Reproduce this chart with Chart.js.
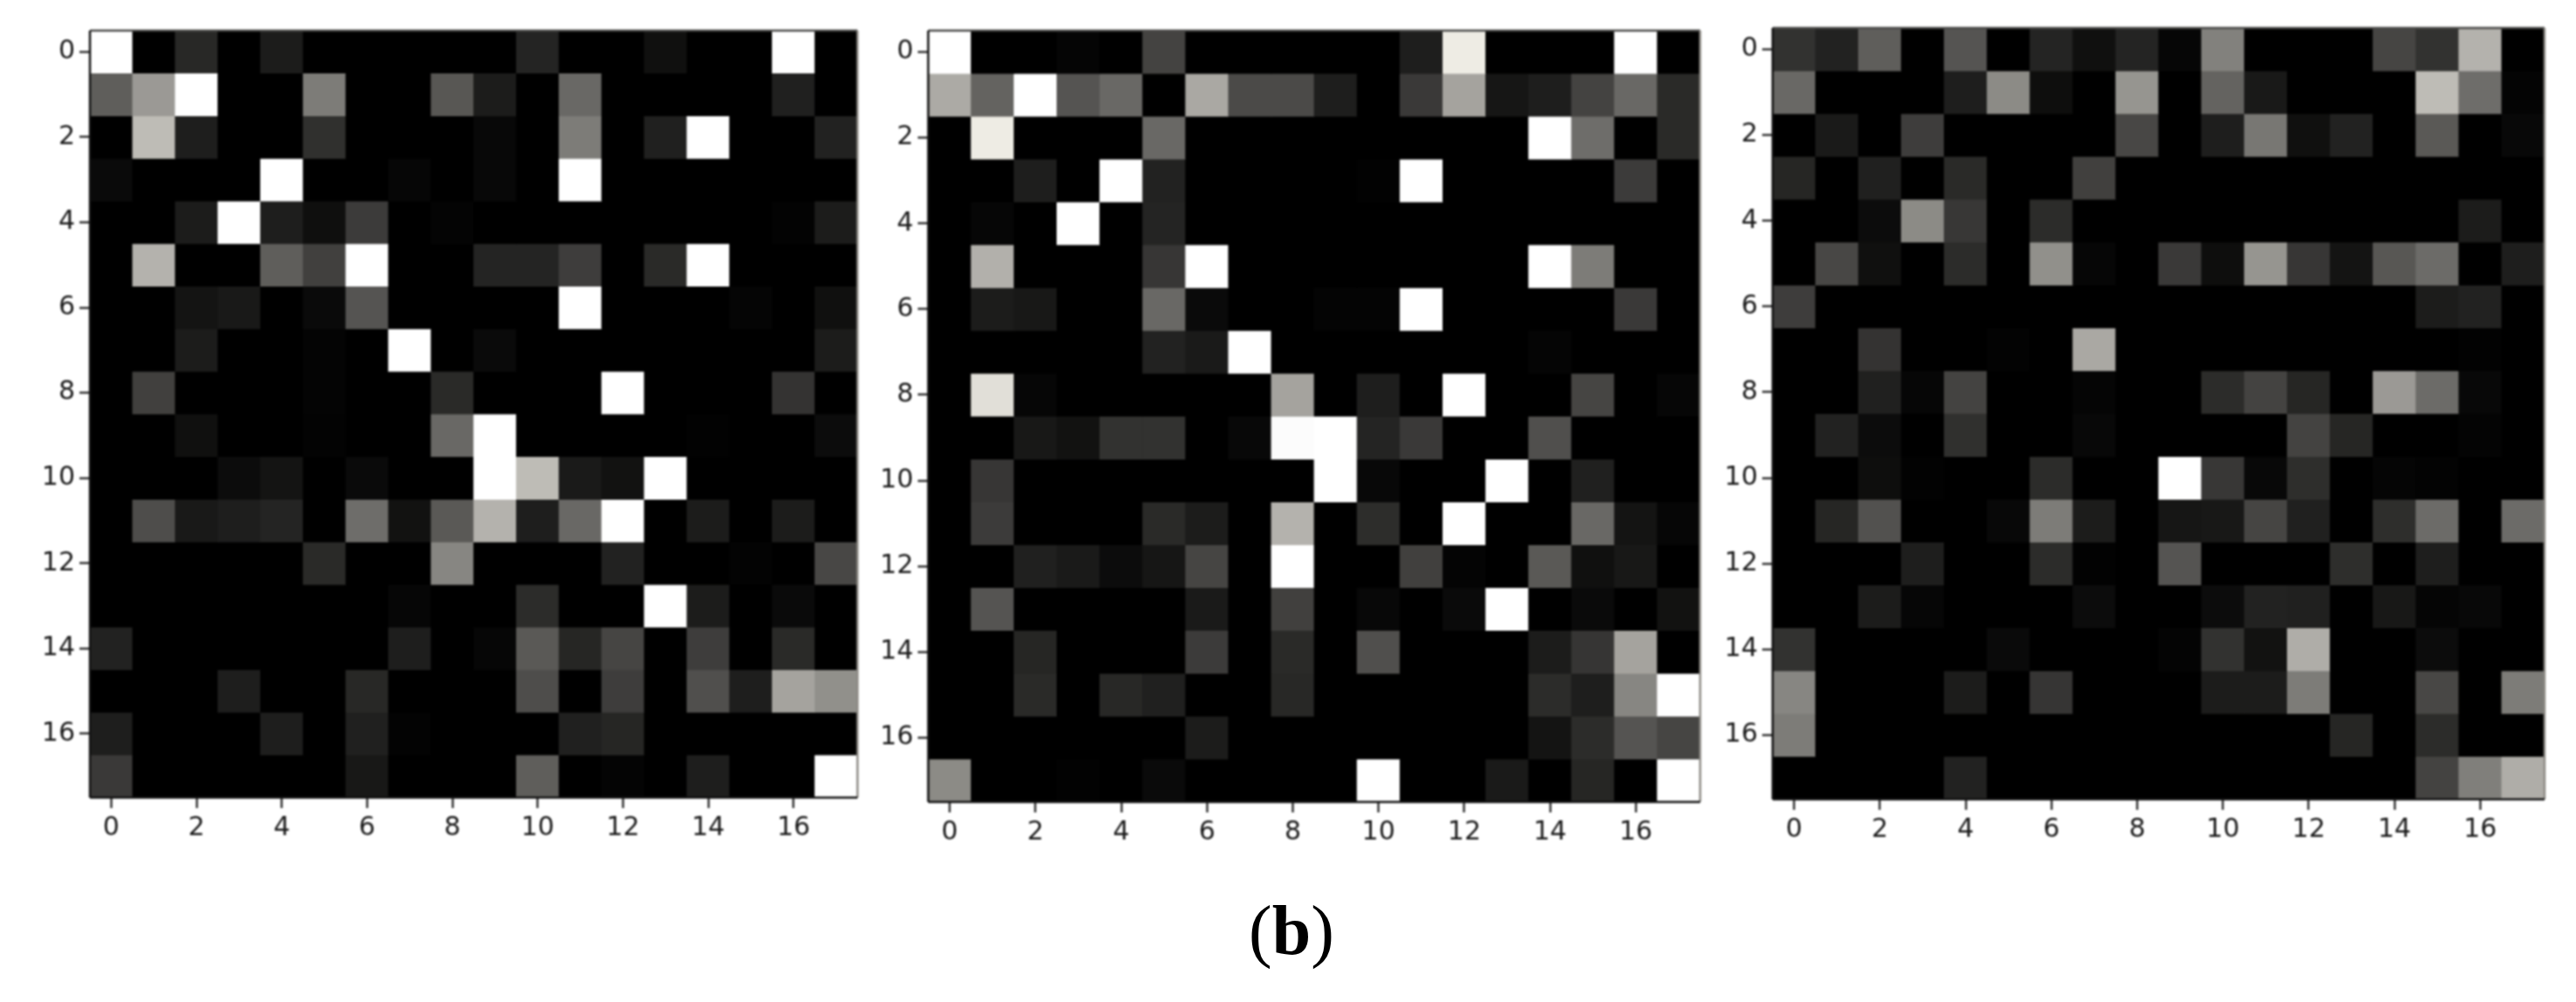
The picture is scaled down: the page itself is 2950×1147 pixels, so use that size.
<!DOCTYPE html>
<html>
<head>
<meta charset="utf-8">
<script src="https://cdn.jsdelivr.net/npm/chart.js@4/dist/chart.umd.js"></script>
<style>
    html, body { margin: 0; background: #fff; width: 2950px; height: 1147px; overflow: hidden; }
    canvas { position: absolute; filter: blur(0.8px); }
    #caption { position: absolute; left: 1279px; width: 400px; top: 1009px; text-align: center;
               font: 80px "Liberation Serif", serif; color: #000; line-height: 112px; }
</style>
</head>
<body>
<canvas id="panelA"></canvas>
<canvas id="panelB"></canvas>
<canvas id="panelC"></canvas>
<div id="caption">(<b>b</b>)</div>
<script>
const cells = [0, 1, 2, 3, 4, 5, 6, 7, 8, 9, 10, 11, 12, 13, 14, 15, 16, 17];
const tickValues = [0, 2, 4, 6, 8, 10, 12, 14, 16];

// grey level of each cell, one line per matrix row
const valuesA = [
    [255,0,40,0,28,0,0,0,0,0,36,0,0,16,0,0,255,0],
    [95,155,255,0,0,125,0,0,88,28,0,105,0,0,0,0,32,0],
    [0,190,30,0,0,48,0,0,0,8,0,125,0,32,255,0,0,34],
    [10,0,0,0,255,0,0,6,0,8,0,255,0,0,0,0,0,0],
    [0,0,28,255,30,15,60,0,4,0,0,0,0,0,0,0,3,28],
    [0,180,0,0,95,65,255,0,0,36,36,62,0,42,255,0,0,0],
    [0,0,20,25,0,10,85,0,0,0,0,255,0,0,0,5,0,16],
    [0,0,28,0,0,4,0,255,0,10,0,0,0,0,0,0,0,28],
    [0,65,0,0,0,4,0,0,42,0,0,0,255,0,0,0,52,0],
    [0,0,16,0,0,3,0,0,105,255,0,0,0,0,2,0,0,12],
    [0,0,0,12,20,0,10,0,0,255,190,26,18,255,0,0,0,0],
    [0,78,25,30,36,0,110,18,90,180,30,105,255,0,28,0,28,0],
    [0,0,0,0,0,42,0,0,135,0,0,0,34,0,0,3,0,72],
    [0,0,0,0,0,0,0,6,0,0,44,0,0,255,28,0,10,0],
    [34,0,0,0,0,0,0,30,0,6,90,38,70,0,62,0,42,0],
    [0,0,0,30,0,0,40,0,0,0,78,0,62,0,80,30,165,145],
    [30,0,0,0,30,0,32,3,0,0,0,32,38,0,0,0,0,0],
    [58,0,0,0,0,0,24,0,0,0,95,0,4,0,30,0,0,255]
];
const valuesB = [
    [255,0,0,5,0,68,0,0,0,0,0,30,238,0,0,0,255,0],
    [172,100,255,85,105,0,170,75,75,30,0,58,165,22,30,68,105,42],
    [0,238,0,0,0,105,0,0,0,0,0,0,0,0,255,110,0,42],
    [0,0,30,0,255,34,0,0,0,0,2,255,0,0,0,0,60,0],
    [0,6,0,255,0,36,0,0,0,0,0,0,0,0,0,0,0,0],
    [0,178,0,0,0,55,255,0,0,0,0,0,0,0,255,125,0,0],
    [0,28,24,0,0,105,10,0,0,4,4,255,0,0,0,0,58,0],
    [0,0,0,0,0,34,26,255,0,0,0,0,0,0,5,0,0,0],
    [0,225,6,0,0,0,0,0,165,0,30,0,255,0,0,70,0,6],
    [0,0,24,18,50,50,0,8,252,255,36,58,0,0,80,0,0,0],
    [0,55,0,0,0,0,0,0,0,255,8,0,0,255,0,32,0,0],
    [0,60,0,0,0,42,28,0,180,0,45,0,255,0,0,105,20,6],
    [0,0,32,26,12,22,70,0,255,0,0,65,4,0,90,16,24,0],
    [0,85,0,0,0,0,26,0,65,0,8,0,10,255,0,10,0,18],
    [0,0,38,0,0,0,60,0,42,0,80,0,0,0,28,54,165,0],
    [0,0,42,0,40,32,0,0,40,0,0,0,0,0,44,30,135,255],
    [0,0,0,0,0,0,28,0,0,0,0,0,0,0,20,44,85,70],
    [140,0,0,2,0,10,0,0,0,0,255,0,0,26,0,38,0,255]
];
const valuesC = [
    [50,34,95,0,85,0,36,16,36,6,130,0,0,0,70,50,180,0],
    [105,0,0,0,30,140,14,0,150,0,100,25,0,0,0,190,110,4],
    [0,26,0,62,0,0,0,0,72,0,30,120,16,34,0,90,0,8],
    [38,0,32,0,42,0,0,65,0,0,0,0,0,0,0,0,0,0],
    [0,0,12,140,56,0,44,0,0,0,0,0,0,0,0,0,28,0],
    [0,72,16,0,44,0,145,6,0,58,14,150,55,20,88,108,0,30],
    [62,0,0,0,0,0,0,0,0,0,0,0,0,0,0,28,34,0],
    [0,0,52,0,0,3,0,170,0,0,0,0,0,0,0,0,2,0],
    [0,0,32,6,68,0,0,5,0,0,44,68,38,0,155,108,8,0],
    [0,34,12,0,48,0,0,8,0,0,0,0,68,38,0,0,4,0],
    [0,0,14,2,0,0,44,0,0,255,56,8,46,0,5,3,0,0],
    [0,38,82,0,0,8,125,28,0,22,24,70,32,0,46,108,0,108],
    [0,0,0,30,0,0,44,2,0,85,0,0,0,46,0,30,0,0],
    [0,0,28,6,0,0,0,12,0,0,12,34,32,0,24,5,8,0],
    [50,0,0,0,0,10,0,0,0,4,50,18,175,0,0,12,0,0],
    [135,0,0,0,28,0,54,0,0,0,28,28,125,0,0,72,0,125],
    [125,0,0,0,0,0,0,0,0,0,0,0,0,38,0,44,0,0],
    [0,0,0,0,34,0,0,0,0,0,0,0,0,0,0,68,128,175]
];

const gutter = 90, footer = 75, padTop = 6, padRight = 8;

// reference greys lean slightly warm in the mid tones
function cellColor(level) {
    if (level >= 250) return `rgb(${level},${level},${level})`;
    return `rgb(${level},${Math.round(level * 0.99)},${Math.round(level * 0.96)})`;
}

const framePlugin = {
    id: 'frame',
    beforeDatasetsDraw(chart) {
        const a = chart.chartArea, ctx = chart.ctx;
        ctx.save();
        ctx.fillStyle = '#000';
        ctx.fillRect(a.left, a.top, a.width, a.height);
        ctx.restore();
    },
    afterDatasetsDraw(chart) {
        const a = chart.chartArea, ctx = chart.ctx;
        const edge = (color, x1, y1, x2, y2) => {
            ctx.strokeStyle = color;
            ctx.beginPath();
            ctx.moveTo(x1, y1);
            ctx.lineTo(x2, y2);
            ctx.stroke();
        };
        ctx.save();
        ctx.lineWidth = 2.5;
        edge('#4a4a48', a.left, a.top, a.right, a.top);
        edge('#8d8a85', a.right, a.top, a.right, a.bottom);
        edge('#111', a.left, a.top, a.left, a.bottom);
        edge('#111', a.left, a.bottom, a.right, a.bottom);
        ctx.restore();
    }
};

function tickAxis(extra) {
    return Object.assign({
        type: 'linear',
        min: -0.5,
        max: 17.5,
        offset: false,
        afterBuildTicks: scale => { scale.ticks = tickValues.map(v => ({ value: v })); },
        grid: { offset: false, drawOnChartArea: false, tickLength: 12, tickWidth: 2.5, tickColor: '#333' },
        border: { display: false },
        ticks: {
            padding: 5,
            color: '#1a1a1a',
            maxRotation: 0,
            font: { family: '"DejaVu Sans"', size: 30 },
            callback: v => String(v)
        }
    }, extra);
}

// pin the axis boxes so the plot area lands exactly where the reference has it
function fitX(scale) {
    scale.height = footer;
    scale.paddingLeft = 0;
    scale.paddingRight = 0;
}

function fitY(scale) {
    scale.width = gutter;
    scale.paddingTop = 0;
    scale.paddingBottom = 0;
}

function drawPanel(id, rows, left, top, width, height) {
    const canvas = document.getElementById(id);
    canvas.width = width + gutter + padRight;
    canvas.height = height + footer + padTop;
    canvas.style.left = (left - gutter) + 'px';
    canvas.style.top = (top - padTop) + 'px';

    new Chart(canvas, {
        type: 'bar',
        data: {
            datasets: rows.map((row, r) => ({
                data: cells.map(c => ({ x: c, y: [r - 0.5, r + 0.5] })),
                backgroundColor: row.map(cellColor),
                borderWidth: 0
            }))
        },
        options: {
            responsive: false,
            animation: false,
            layout: { autoPadding: false, padding: { top: padTop, right: padRight } },
            datasets: { bar: { grouped: false, barPercentage: 1, categoryPercentage: 1 } },
            plugins: { legend: { display: false }, tooltip: { enabled: false } },
            scales: {
                x: tickAxis({ afterFit: fitX }),
                y: tickAxis({ reverse: true, afterFit: fitY })
            }
        },
        plugins: [framePlugin]
    });
}

drawPanel('panelA', valuesA, 103, 35, 879, 878);
drawPanel('panelB', valuesB, 1063, 35, 884, 883);
drawPanel('panelC', valuesC, 2030, 32, 884, 883);
</script>
</body>
</html>
